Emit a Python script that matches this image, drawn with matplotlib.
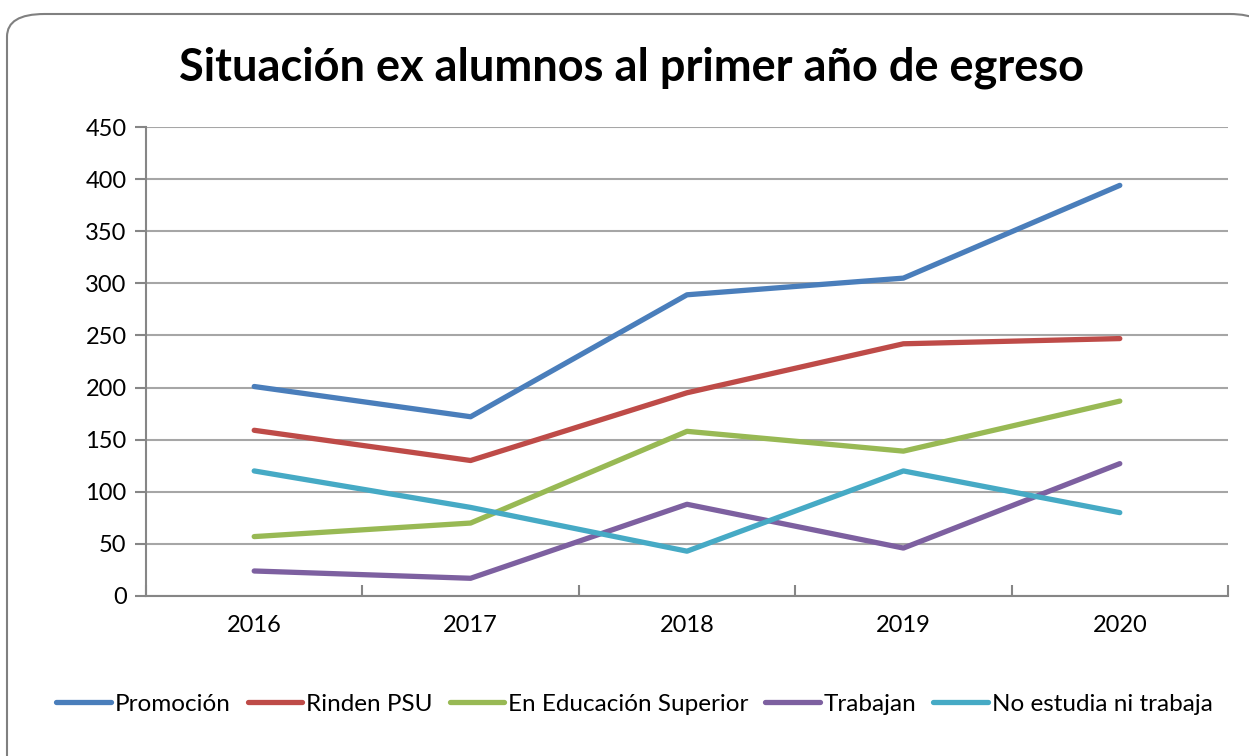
import matplotlib.pyplot as plt
from matplotlib.patches import FancyBboxPatch

# Data
years = ['2016', '2017', '2018', '2019', '2020']
promocion = [201, 172, 289, 305, 394]
rinden_psu = [159, 130, 195, 242, 247]
educacion_superior = [57, 70, 158, 139, 187]
trabajan = [24, 17, 88, 46, 127]
no_estudia = [120, 85, 43, 120, 80]

plt.rcParams['font.family'] = ['Lato', 'DejaVu Sans']

fig = plt.figure(figsize=(12.49, 7.56), dpi=100)

# rounded chart frame
frame = FancyBboxPatch((7 / 1249, -0.1), 1260 / 1249, 1 - 14 / 756 + 0.1,
                       boxstyle='round,pad=0,rounding_size=0.03',
                       transform=fig.transFigure, facecolor='white',
                       edgecolor='#808080', linewidth=1.5, zorder=-5)
fig.patches.append(frame)

ax = fig.add_axes([146 / 1249, 1 - 596 / 756, 1082 / 1249, 469 / 756])
ax.set_facecolor('none')
ax.set_zorder(2)

x = range(len(years))
ax.plot(x, promocion, color='#4A7EBB', lw=3.8, label='Promoción', solid_capstyle='round')
ax.plot(x, rinden_psu, color='#BE4B48', lw=3.8, label='Rinden PSU', solid_capstyle='round')
ax.plot(x, educacion_superior, color='#98B954', lw=3.8, label='En Educación Superior', solid_capstyle='round')
ax.plot(x, trabajan, color='#7D60A0', lw=3.8, label='Trabajan', solid_capstyle='round')
ax.plot(x, no_estudia, color='#46AAC5', lw=3.8, label='No estudia ni trabaja', solid_capstyle='round')

ax.set_xlim(-0.5, len(years) - 0.5)
ax.set_ylim(0, 450)
ax.set_yticks(range(0, 451, 50))
ax.yaxis.grid(True, color='#A6A6A6', lw=1.5)
ax.set_axisbelow(True)

# category boundaries as major ticks, labels centered on minor ticks
ax.set_xticks([i - 0.5 for i in range(len(years) + 1)])
ax.set_xticklabels([])
ax.set_xticks(list(x), minor=True)
ax.set_xticklabels(years, minor=True)
ax.tick_params(axis='x', which='minor', length=0, pad=14, labelsize=17, colors='black')
ax.tick_params(axis='x', which='major', length=8, width=1.5, color='#868686', direction='in')
ax.tick_params(axis='y', length=8, width=1.5, color='#868686', direction='out', labelsize=17, pad=6)

for s in ['top', 'right']:
    ax.spines[s].set_visible(False)
for s in ['left', 'bottom']:
    ax.spines[s].set_color('#868686')
    ax.spines[s].set_linewidth(1.5)

fig.text(0.506, 1 - 68 / 756, 'Situación ex alumnos al primer año de egreso',
         ha='center', va='center', fontsize=32.5, fontweight='bold')

fig.legend(loc='center', bbox_to_anchor=(0.508, 1 - 704 / 756), ncol=5, frameon=False,
           fontsize=17.5, handlelength=2.25, handletextpad=0.15, columnspacing=0.7)

fig.savefig('out.png', dpi=100)
